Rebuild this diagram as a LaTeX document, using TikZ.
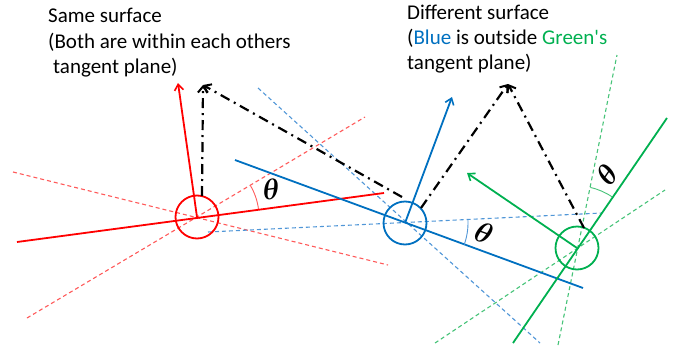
\RequirePackage{fix-cm}
\documentclass[tikz,border=0pt]{standalone}
\usepackage{amsmath}
\usepackage{fontspec}
\setmainfont{Carlito}
\usetikzlibrary{arrows.meta}
\definecolor{cred}{RGB}{255,0,0}
\definecolor{cblue}{RGB}{0,112,192}
\definecolor{cgreen}{RGB}{0,176,80}
\definecolor{dred}{RGB}{255,90,90}
\definecolor{dblue}{RGB}{80,150,215}
\definecolor{dgreen}{RGB}{70,195,120}
\newcommand{\bth}{\ensuremath{\boldsymbol{\theta}}}
\begin{document}
\begin{tikzpicture}[x=1pt,y=-1pt,
  txt/.style={anchor=base west,inner sep=0pt,font=\fontsize{21}{26}\selectfont},
  plane/.style={line width=1.8pt},
  tanline/.style={line width=1.1pt,dash pattern=on 4pt off 3pt},
  ring/.style={circle,draw,line width=1.8pt,minimum size=43pt,inner sep=0pt},
  normalarrow/.style={line width=1.8pt,-{Straight Barb[length=6pt,width=9pt,line width=1.6pt]}},
  sumarrow/.style={line width=2.2pt,dash pattern=on 10pt off 5pt on 2pt off 5pt,
     -{Straight Barb[length=6pt,width=10pt,line width=2pt]}},
  anglearc/.style={line width=0.9pt},
  thetalbl/.style={inner sep=0pt,font=\fontsize{29}{29}\selectfont}
]
\useasboundingbox (0,0) rectangle (683,351);

% ---------------- texts
\node[txt] (t1) at (48,22) {Same surface};
\node[txt] (t2) at (48,48) {(Both are within each others};
\node[txt] (t3) at (53,73) {tangent plane)};
\node[txt] (u1) at (407,19) {Different surface};
\node[txt] (u2) at (407,44) {(\textcolor{cblue}{Blue} is outside \textcolor{cgreen}{Green\textquotesingle s}};
\node[txt] (u3) at (407,69) {tangent plane)};

% ---------------- coordinates
\coordinate (rA) at (17,242);  \coordinate (rB) at (384,193);
\coordinate (rD1) at (27,318); \coordinate (rD2) at (365,117);
\coordinate (rD3) at (13,172); \coordinate (rD4) at (388,265);
\coordinate (rN) at (178,83);

\coordinate (bA) at (235,160); \coordinate (bB) at (583,288);
\coordinate (bD1) at (258,88); \coordinate (bD2) at (540,343);
\coordinate (bD3) at (208,232); \coordinate (bD4) at (602,213);
\coordinate (bN) at (452,97);

\coordinate (gA) at (513,343); \coordinate (gB) at (667,118);
\coordinate (gD1) at (435,343); \coordinate (gD2) at (665,190);
\coordinate (gD3) at (558,345); \coordinate (gD4) at (617,55);
\coordinate (gN) at (467,173);

\coordinate (apexL) at (203,85);
\coordinate (apexR) at (508,84);
\coordinate (vS) at (202,196);
\coordinate (bS1) at (402,197);
\coordinate (bS2) at (421,208);
\coordinate (gS) at (584,228);

% ---------------- dashed tangent planes
\draw[tanline,dred] (rD1) -- (rD2);
\draw[tanline,dred] (rD3) -- (rD4);
\draw[tanline,dblue] (bD1) -- (bD2);
\draw[tanline,dblue] (bD3) -- (bD4);
\draw[tanline,dgreen] (gD1) -- (gD2);
\draw[tanline,dgreen] (gD3) -- (gD4);

% ---------------- solid planes
\draw[plane,cred] (rA) -- (rB);
\draw[plane,cblue] (bA) -- (bB);
\draw[plane,cgreen] (gA) -- (gB);

% ---------------- points
\node[ring,draw=cred] (rc) at (197,217) {};
\node[ring,draw=cblue] (bc) at (405,223) {};
\node[ring,draw=cgreen] (gc) at (577,248) {};

% ---------------- normals
\draw[normalarrow,cred] (rc.center) -- (rN);
\draw[normalarrow,cblue] (bc.center) -- (bN);
\draw[normalarrow,cgreen] (gc.center) -- (gN);

% ---------------- dash-dot arrows
\draw[sumarrow] (vS) -- (apexL);
\draw[sumarrow] (bS1) -- (apexL);
\draw[sumarrow] (bS2) -- (apexR);
\draw[sumarrow] (gS) -- (apexR);

% ---------------- angle arcs
\draw[anglearc,dred] ([shift={(-7.6:62)}]rc.center) arc[start angle=-7.6,end angle=-30.5,radius=62];
\draw[anglearc,dblue] ([shift={(20.2:63)}]bc.center) arc[start angle=20.2,end angle=-2.5,radius=63];
\draw[anglearc,dgreen] ([shift={(-55.5:62)}]gc.center) arc[start angle=-55.5,end angle=-77.5,radius=62];

\node[thetalbl,rotate=7.6] (thr) at (271,189) {\bth};
\node[thetalbl,rotate=-20] (thb) at (484,233) {\bth};
\node[thetalbl,rotate=55.5] (thg) at (607,175) {\bth};
\end{tikzpicture}
\end{document}
